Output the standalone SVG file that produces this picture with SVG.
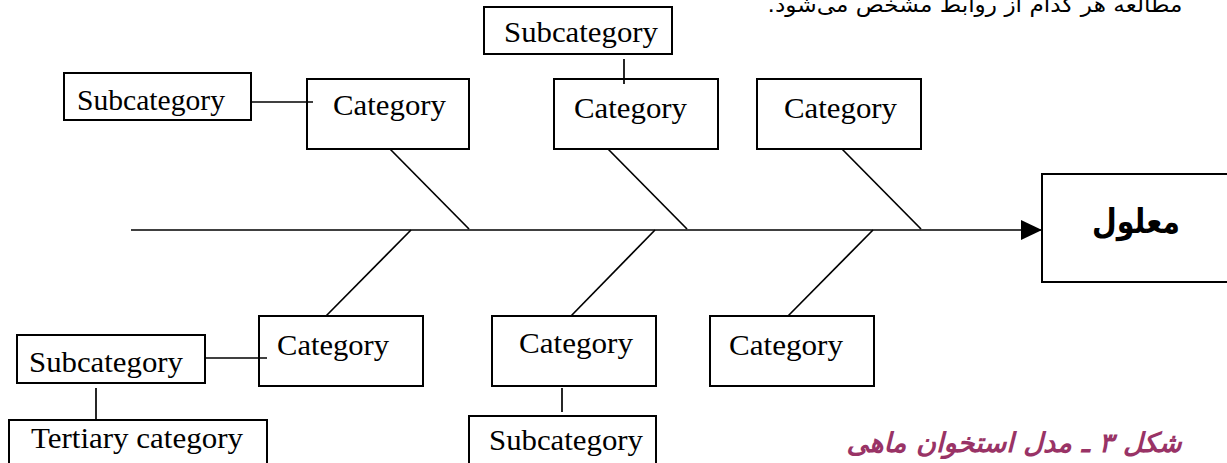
<svg xmlns="http://www.w3.org/2000/svg" width="1227" height="463" viewBox="0 0 1227 463">
<defs>
<style>
.box{fill:#fff;stroke:#000;stroke-width:2}
.ln{stroke:#000;stroke-width:1.7;fill:none}
.lbl{font-family:"Liberation Serif","Times New Roman",serif;font-size:29px;fill:#000}
.fa{font-family:"DejaVu Sans",sans-serif;fill:#000}
</style>
<marker id="arr" viewBox="0 0 21 20" refX="21" refY="10" markerWidth="21" markerHeight="20" markerUnits="userSpaceOnUse" orient="auto">
<path d="M0,0 L21,10 L0,20 Z" fill="#000"/>
</marker>
</defs>
<rect width="1227" height="463" fill="#fff"/>
<text class="fa" x="975" y="12" font-size="21" text-anchor="middle" direction="rtl" textLength="415" lengthAdjust="spacingAndGlyphs">مطالعه هر کدام از روابط مشخص می‌شود.</text>
<g id="connectors">
<line class="ln" x1="131" y1="230" x2="1042" y2="230" marker-end="url(#arr)"/>
<line class="ln" x1="390" y1="149" x2="469" y2="229"/>
<line class="ln" x1="608" y1="149" x2="687" y2="229"/>
<line class="ln" x1="842" y1="149" x2="921" y2="229"/>
<line class="ln" x1="411" y1="230" x2="326" y2="316"/>
<line class="ln" x1="655" y1="230" x2="571" y2="316"/>
<line class="ln" x1="873" y1="230" x2="788" y2="316"/>
<line class="ln" x1="251" y1="102" x2="313" y2="102"/>
<line class="ln" x1="624" y1="59" x2="624" y2="84"/>
<line class="ln" x1="205" y1="358" x2="267" y2="358"/>
<line class="ln" x1="96" y1="388" x2="96" y2="419"/>
<line class="ln" x1="562" y1="388" x2="562" y2="412"/>
</g>
<g id="sub-top-left"><rect class="box" x="64" y="73" width="187" height="47"/><text class="lbl" x="77" y="110" textLength="148" lengthAdjust="spacingAndGlyphs">Subcategory</text></g>
<g id="cat-top-1"><rect class="box" x="307" y="79" width="162" height="70" fill-opacity="0"/><text class="lbl" x="333" y="115" textLength="113" lengthAdjust="spacingAndGlyphs">Category</text></g>
<g id="sub-top"><rect class="box" x="484" y="7" width="188" height="47"/><text class="lbl" x="504" y="42" textLength="154" lengthAdjust="spacingAndGlyphs">Subcategory</text></g>
<g id="cat-top-2"><rect class="box" x="554" y="79" width="164" height="70" fill-opacity="0"/><text class="lbl" x="574" y="118" textLength="113" lengthAdjust="spacingAndGlyphs">Category</text></g>
<g id="cat-top-3"><rect class="box" x="757" y="79" width="164" height="70"/><text class="lbl" x="784" y="118" textLength="113" lengthAdjust="spacingAndGlyphs">Category</text></g>
<g id="cat-bot-1"><rect class="box" x="259" y="316" width="164" height="70" fill-opacity="0"/><text class="lbl" x="277" y="355" textLength="112" lengthAdjust="spacingAndGlyphs">Category</text></g>
<g id="sub-bot-left"><rect class="box" x="17" y="335" width="188" height="48"/><text class="lbl" x="29" y="372" textLength="154" lengthAdjust="spacingAndGlyphs">Subcategory</text></g>
<g id="tertiary"><rect class="box" x="9" y="420" width="258" height="60"/><text class="lbl" x="31" y="448" textLength="212" lengthAdjust="spacingAndGlyphs">Tertiary category</text></g>
<g id="cat-bot-2"><rect class="box" x="492" y="316" width="164" height="70"/><text class="lbl" x="519" y="353" textLength="114" lengthAdjust="spacingAndGlyphs">Category</text></g>
<g id="sub-bot"><rect class="box" x="469" y="416" width="187" height="60"/><text class="lbl" x="489" y="450" textLength="154" lengthAdjust="spacingAndGlyphs">Subcategory</text></g>
<g id="cat-bot-3"><rect class="box" x="710" y="316" width="164" height="70"/><text class="lbl" x="729" y="355" textLength="114" lengthAdjust="spacingAndGlyphs">Category</text></g>
<g id="effect"><rect class="box" x="1042" y="174" width="200" height="108"/><text class="fa" x="1136" y="233" font-size="34" font-weight="bold" text-anchor="middle" direction="rtl" textLength="88" lengthAdjust="spacingAndGlyphs">معلول</text></g>
<text class="fa" x="1014" y="452" font-size="27" font-weight="bold" font-style="italic" fill="#993366" style="fill:#993366" text-anchor="middle" direction="rtl" textLength="335" lengthAdjust="spacingAndGlyphs">شکل ۳ ـ مدل استخوان ماهی</text>
</svg>
